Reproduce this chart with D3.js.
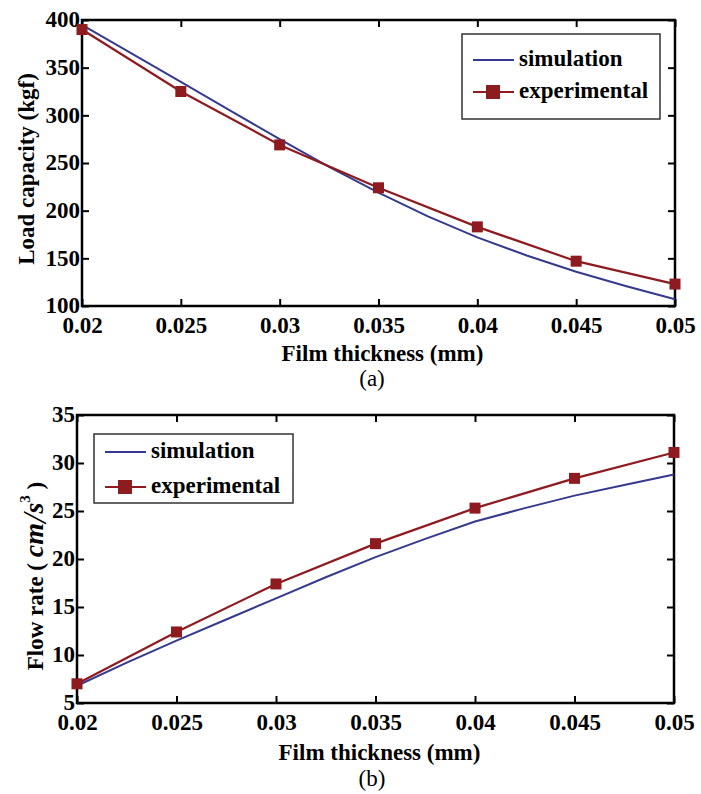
<!doctype html>
<html lang="en">
<head>
  <meta charset="utf-8">
  <script src="https://cdn.jsdelivr.net/npm/d3@7"></script>
</head>
<style>
    body { margin: 0; background: white; }
    svg { display: block; background-color: white; font-family: "Liberation Serif", "Times New Roman", serif; }
</style>
<body>
<script>
    // film thickness (mm)
    let thickness = [0.02, 0.025, 0.03, 0.035, 0.04, 0.045, 0.05]
    let thicknessFine = [0.02, 0.0225, 0.025, 0.0275, 0.03, 0.0325, 0.035, 0.0375, 0.04, 0.0425, 0.045, 0.0475, 0.05]
    let xTicks = [0.02, 0.025, 0.03, 0.035, 0.04, 0.045, 0.05]

    // (a) load capacity (kgf)
    let loadSim = [395, 365, 335, 305, 275, 246, 219, 194, 172, 153, 136, 121, 107]
    let loadExp = [390, 325, 269, 224, 183, 147, 123]
    let loadTicks = [100, 150, 200, 250, 300, 350, 400]

    // (b) flow rate
    let flowSim = [6.8, 9.2, 11.5, 13.7, 15.9, 18.1, 20.2, 22.1, 23.9, 25.3, 26.6, 27.7, 28.8]
    let flowExp = [7.0, 12.4, 17.4, 21.6, 25.3, 28.4, 31.1]
    let flowTicks = [5, 10, 15, 20, 25, 30, 35]

    let seriesNames = ['simulation', 'experimental']
    let simColor = '#363a8e'
    let expColor = '#8e1b1f'
    let fs = '23px'

    let svg = d3.select('body').append('svg')
        .attr('width', 701)
        .attr('height', 794)

    let drawPanel = (p) => {
        let x = d3.scaleLinear().domain([0.02, 0.05]).range([p.left, p.right])
        let y = d3.scaleLinear().domain(p.domain).range([p.bottom, p.top])
        let g = svg.append('g')
        let tl = 7

        // ticks on all four sides, pointing inward
        let bottomAxis = d3.axisBottom(x).tickValues(xTicks).tickSize(-tl).tickPadding(tl + 4)
            .tickFormat(d => d3.format('')(+d.toFixed(3)))
        let topAxis = d3.axisTop(x).tickValues(xTicks).tickSize(-tl).tickFormat('')
        let leftAxis = d3.axisLeft(y).tickValues(p.ticks).tickSize(-tl).tickPadding(2)
        let rightAxis = d3.axisRight(y).tickValues(p.ticks).tickSize(-tl).tickFormat('')

        let ax = [
            g.append('g').attr('transform', `translate(0,${p.bottom})`).call(bottomAxis),
            g.append('g').attr('transform', `translate(0,${p.top})`).call(topAxis),
            g.append('g').attr('transform', `translate(${p.left},0)`).call(leftAxis),
            g.append('g').attr('transform', `translate(${p.right},0)`).call(rightAxis)
        ]
        for (let a of ax) {
            a.attr('font-family', null)
            a.select('.domain').remove()
            a.selectAll('line').attr('stroke', '#000').attr('stroke-width', 2)
            a.selectAll('text')
                .attr('fill', '#000')
                .style('font-family', '"Liberation Serif", serif')
                .style('font-weight', 'bold')
                .style('font-size', fs)
        }
        ax[0].selectAll('text').attr('dy', '0.7em')
        ax[2].selectAll('text').attr('dy', '0.3em')

        g.append('rect')
            .attr('x', p.left).attr('y', p.top)
            .attr('width', p.right - p.left).attr('height', p.bottom - p.top)
            .attr('fill', 'none').attr('stroke', '#000').attr('stroke-width', 2.5)

        let line = d3.line().x(d => x(d[0])).y(d => y(d[1]))

        g.append('path')
            .datum(thicknessFine.map((t, i) => [t, p.sim[i]]))
            .attr('d', line)
            .attr('fill', 'none').attr('stroke', simColor).attr('stroke-width', 2)

        let expPts = thickness.map((t, i) => [t, p.exp[i]])
        g.append('path')
            .datum(expPts)
            .attr('d', line)
            .attr('fill', 'none').attr('stroke', expColor).attr('stroke-width', 2.2)

        g.selectAll('.marker').data(expPts).enter().append('rect')
            .attr('x', d => x(d[0]) - 5.5).attr('y', d => y(d[1]) - 5.5)
            .attr('width', 11).attr('height', 11)
            .attr('fill', expColor)

        // axis title and caption
        g.append('text')
            .attr('x', (p.left + p.right) / 2 + 4).attr('y', p.xTitleY)
            .attr('text-anchor', 'middle')
            .style('font-weight', 'bold').style('font-size', fs)
            .text('Film thickness (mm)')

        g.append('text')
            .attr('x', 372).attr('y', p.capY)
            .attr('text-anchor', 'middle')
            .style('font-size', '23px')
            .text(p.caption)

        // legend
        let lg = p.legend
        g.append('rect')
            .attr('x', lg.x).attr('y', lg.y).attr('width', lg.w).attr('height', lg.h)
            .attr('fill', 'white').attr('stroke', '#333').attr('stroke-width', 1.5)
        seriesNames.forEach((name, i) => {
            let ry = lg.y + lg.row0 + i * lg.gap
            g.append('line')
                .attr('x1', lg.x + 11).attr('x2', lg.x + 52)
                .attr('y1', ry).attr('y2', ry)
                .attr('stroke', i == 0 ? simColor : expColor).attr('stroke-width', 2)
            if (i == 1) {
                g.append('rect')
                    .attr('x', lg.x + 31 - 7).attr('y', ry - 7).attr('width', 14).attr('height', 14)
                    .attr('fill', expColor)
            }
            g.append('text')
                .attr('x', lg.x + 57).attr('y', ry + 6)
                .style('font-weight', 'bold').style('font-size', fs)
                .text(name)
        })
        return g
    }

    let ga = drawPanel({
        left: 82, right: 675, top: 20, bottom: 306,
        domain: [100, 400], ticks: loadTicks,
        sim: loadSim, exp: loadExp,
        xTitleY: 361, capY: 386, caption: '(a)',
        legend: {x: 462, y: 34, w: 198, h: 85, row0: 26, gap: 32}
    })
    ga.append('text')
        .attr('transform', 'translate(34,169) rotate(-90)')
        .attr('text-anchor', 'middle')
        .style('font-weight', 'bold').style('font-size', fs)
        .text('Load capacity (kgf)')

    let gb = drawPanel({
        left: 77, right: 674, top: 415, bottom: 703,
        domain: [5, 35], ticks: flowTicks,
        sim: flowSim, exp: flowExp,
        xTitleY: 760, capY: 786, caption: '(b)',
        legend: {x: 94, y: 434, w: 199, h: 69, row0: 18, gap: 35}
    })
    let yt = gb.append('text')
        .attr('transform', 'translate(43,576) rotate(-90)')
        .attr('text-anchor', 'middle')
        .style('font-weight', 'bold').style('font-size', '23px')
    yt.append('tspan').text('Flow rate ( ')
    yt.append('tspan').style('font-style', 'italic').style('font-size', '28px').text('cm')
    yt.append('tspan').style('font-style', 'italic').style('font-weight', 'normal').style('font-size', '34px').attr('dy', 3).text('/')
    yt.append('tspan').style('font-style', 'italic').style('font-size', '28px').attr('dy', -3).text('s')
    yt.append('tspan').style('font-size', '15px').attr('dy', -13).text('3')
    yt.append('tspan').attr('dy', 13).text('  )')
</script>
</body>
</html>
